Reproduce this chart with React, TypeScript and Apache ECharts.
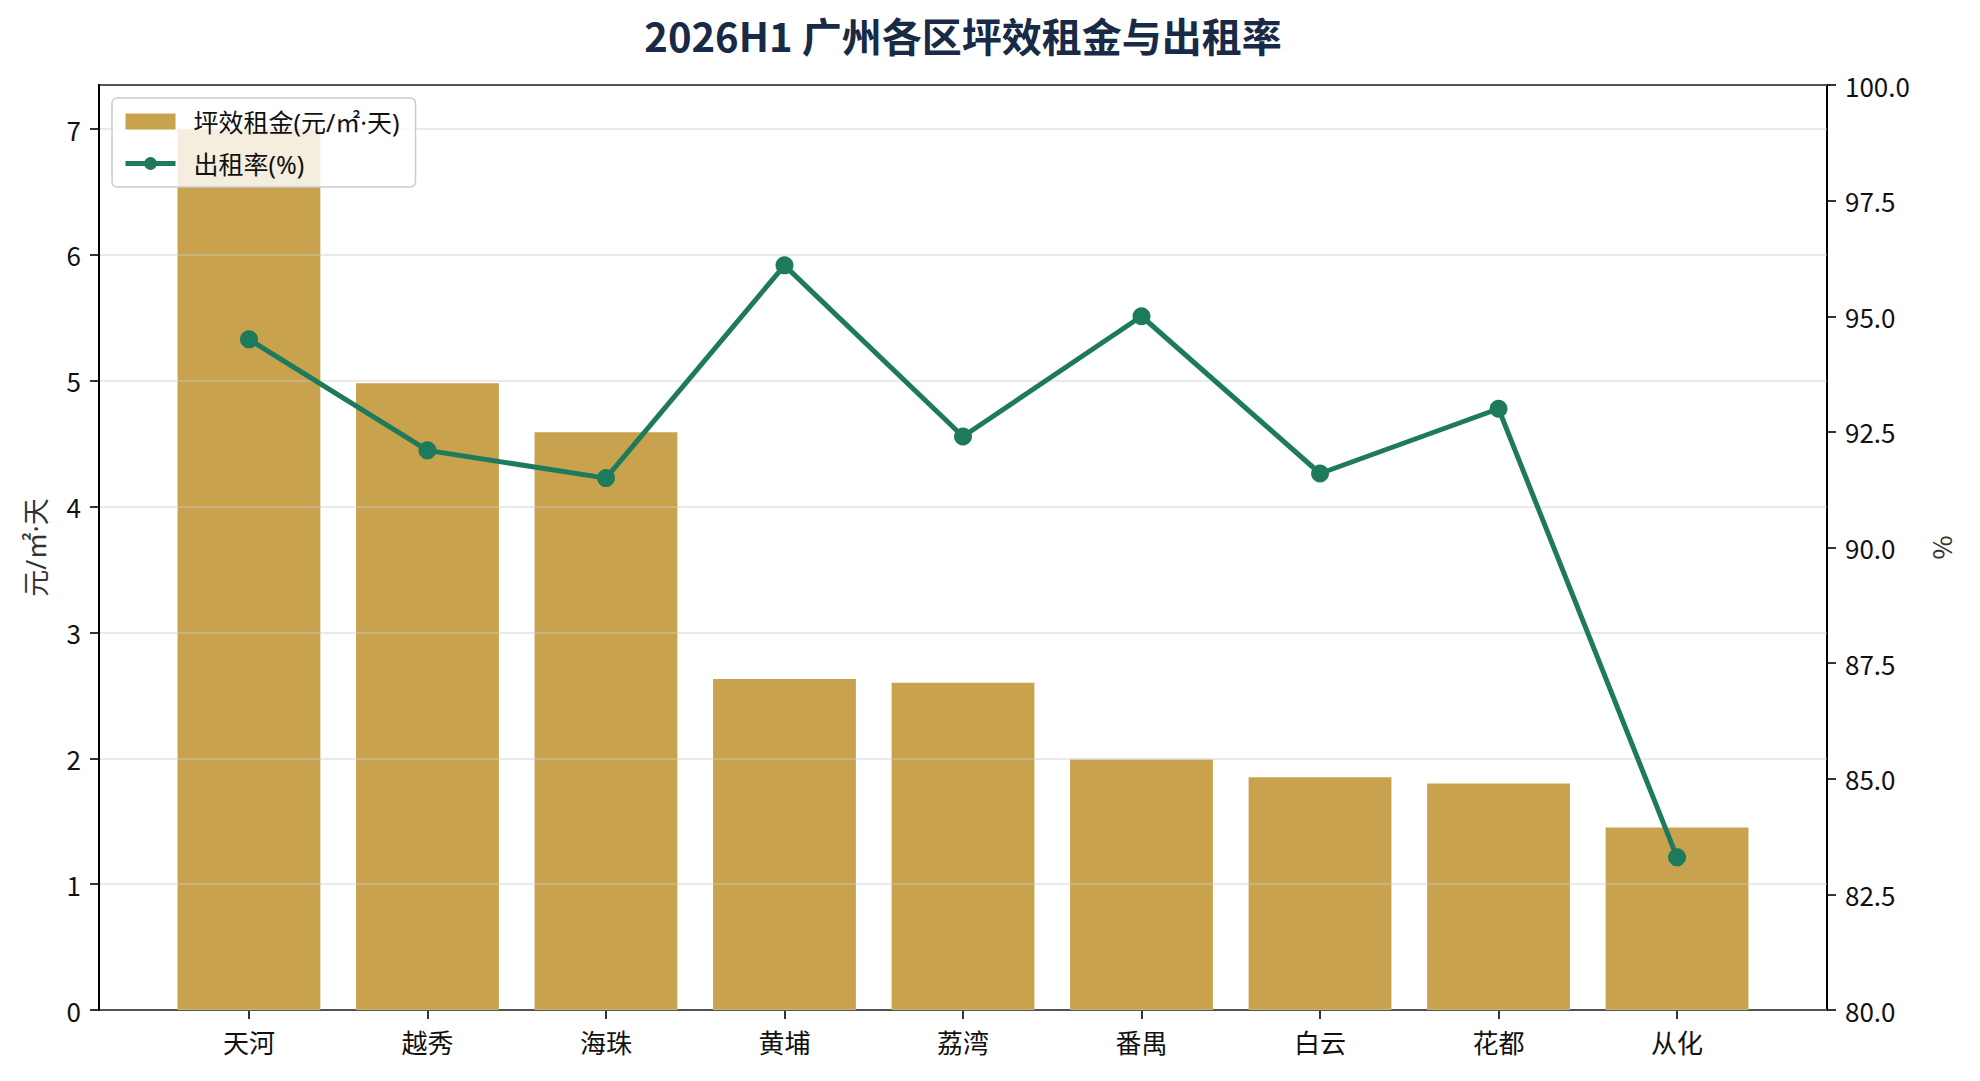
import { useEffect, useRef } from 'react';
import * as echarts from 'echarts';

// 各区数据
const categories = ['天河', '越秀', '海珠', '黄埔', '荔湾', '番禺', '白云', '花都', '从化'];
const rentValues = [7.0, 4.98, 4.59, 2.63, 2.6, 1.99, 1.85, 1.8, 1.45];
const occupancyValues = [94.5, 92.1, 91.5, 96.1, 92.4, 95.0, 91.6, 93.0, 83.3];

const TITLE = '2026H1 广州各区坪效租金与出租率';
const RENT_NAME = '坪效租金(元/㎡·天)';
const OCC_NAME = '出租率(%)';

const FONT = '"Noto Sans CJK SC", "Noto Sans", sans-serif';
const MIXED_FONT = '"Noto Sans", "Noto Sans CJK SC", sans-serif';
const BAR_COLOR = '#c8a24c';
const LINE_COLOR = '#1e7a5c';

// 绘图区（像素）
const PLOT_LEFT = 99;
const PLOT_RIGHT = 1827;
const PLOT_TOP = 85;
const PLOT_BOTTOM = 1010;
const W = 1980;
const H = 1081;
// matplotlib 风格的两侧留白：每个类别单位宽度
const UNIT = (PLOT_RIGHT - PLOT_LEFT) / 9.68;
const PAD = 0.34 * UNIT;

export default function App() {
  const ref = useRef<HTMLDivElement>(null);

  useEffect(() => {
    document.body.style.margin = '0';
    if (!ref.current) return;
    const chart = echarts.init(ref.current, null, { renderer: 'svg' });

    const frameAxis = (position: 'top' | 'bottom') => ({
      type: 'value',
      gridIndex: 0,
      position,
      min: 0,
      max: 1,
      axisLine: { show: true, onZero: false, lineStyle: { color: '#000', width: 2 } },
      axisTick: { show: false },
      axisLabel: { show: false },
      splitLine: { show: false },
    });

    chart.setOption({
      animation: false,
      backgroundColor: '#ffffff',
      textStyle: { fontFamily: FONT },
      title: {
        text: TITLE,
        left: (PLOT_LEFT + PLOT_RIGHT) / 2,
        top: 15,
        textAlign: 'center',
        padding: 0,
        textStyle: { fontSize: 40, fontWeight: 'bold', color: '#182a45', fontFamily: FONT },
      },
      legend: {
        left: 112,
        top: 98,
        orient: 'vertical',
        z: 20,
        padding: [11, 16, 11, 11],
        itemGap: 17,
        itemWidth: 50,
        itemHeight: 16,
        backgroundColor: 'rgba(255,255,255,0.82)',
        borderColor: '#cccccc',
        borderWidth: 1.5,
        borderRadius: 5,
        textStyle: { fontSize: 25, color: '#111', fontFamily: MIXED_FONT, padding: [0, 0, 0, 13] },
        data: [
          { name: RENT_NAME, icon: 'rect' },
          { name: OCC_NAME, lineStyle: { width: 5 } },
        ],
      },
      grid: [
        {
          left: PLOT_LEFT,
          right: W - PLOT_RIGHT,
          top: PLOT_TOP,
          bottom: H - PLOT_BOTTOM,
        },
        {
          left: PLOT_LEFT + PAD,
          right: W - PLOT_RIGHT + PAD,
          top: PLOT_TOP,
          bottom: H - PLOT_BOTTOM,
        },
      ],
      xAxis: [
        frameAxis('bottom'),
        frameAxis('top'),
        {
          type: 'category',
          gridIndex: 1,
          position: 'bottom',
          data: categories,
          axisLine: { show: false, onZero: false },
          axisTick: { show: true, alignWithLabel: true, length: 9, lineStyle: { color: '#000', width: 1.6 } },
          axisLabel: { fontSize: 26, color: '#111', margin: 18, fontFamily: FONT },
          splitLine: { show: false },
        },
      ],
      yAxis: [
        {
          type: 'value',
          gridIndex: 0,
          position: 'left',
          min: 0,
          max: 7.35,
          interval: 1,
          z: 3,
          name: '元/㎡·天',
          nameLocation: 'middle',
          nameGap: 50,
          nameTextStyle: { fontSize: 27, color: '#333', fontFamily: MIXED_FONT },
          axisLine: { show: true, onZero: false, lineStyle: { color: '#000', width: 2 } },
          axisTick: { show: true, inside: false, length: 9, lineStyle: { color: '#000', width: 1.6 } },
          axisLabel: { fontSize: 26, color: '#111', margin: 18, showMaxLabel: false, fontFamily: FONT },
          splitLine: { show: true, lineStyle: { color: 'rgba(205,205,205,0.55)', width: 1.5 } },
        },
        {
          type: 'value',
          gridIndex: 0,
          position: 'right',
          min: 80,
          max: 100,
          interval: 2.5,
          name: '%',
          nameLocation: 'middle',
          nameGap: 100,
          nameTextStyle: { fontSize: 26, color: '#333', fontFamily: FONT },
          axisLine: { show: true, onZero: false, lineStyle: { color: '#000', width: 2 } },
          axisTick: { show: true, inside: false, length: 9, lineStyle: { color: '#000', width: 1.6 } },
          axisLabel: {
            fontSize: 26,
            color: '#111',
            margin: 18,
            fontFamily: FONT,
            formatter: (v: number) => v.toFixed(1),
          },
          splitLine: { show: false },
        },
        { type: 'value', gridIndex: 1, min: 0, max: 7.35, show: false },
        { type: 'value', gridIndex: 1, min: 80, max: 100, show: false },
      ],
      series: [
        {
          name: RENT_NAME,
          type: 'bar',
          xAxisIndex: 2,
          yAxisIndex: 2,
          data: rentValues,
          barWidth: '80%',
          z: 2,
          itemStyle: { color: BAR_COLOR },
        },
        {
          name: OCC_NAME,
          type: 'line',
          xAxisIndex: 2,
          yAxisIndex: 3,
          data: occupancyValues,
          z: 5,
          symbol: 'circle',
          symbolSize: 18,
          itemStyle: { color: LINE_COLOR },
          lineStyle: { color: LINE_COLOR, width: 5 },
        },
      ],
    });

    return () => chart.dispose();
  }, []);

  return <div ref={ref} style={{ position: 'absolute', left: 0, top: 0, width: W, height: H }} />;
}
